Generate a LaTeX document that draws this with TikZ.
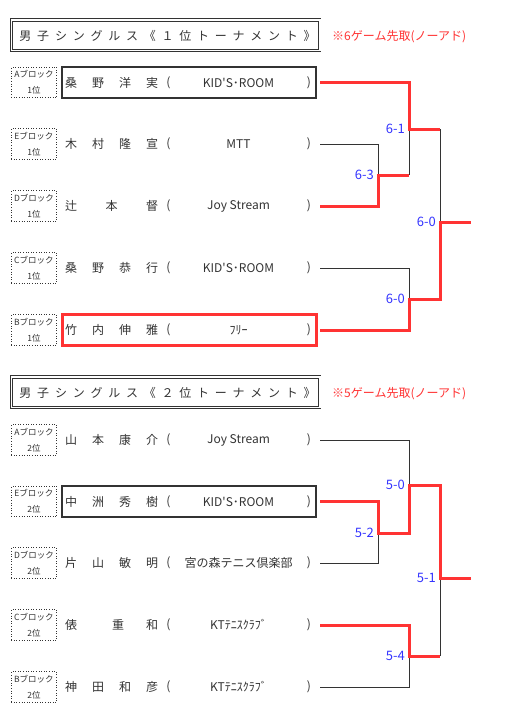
\documentclass[tikz,border=0pt]{standalone}
\usepackage{fontspec}
\setmainfont{Noto Sans CJK JP}
\usetikzlibrary{positioning}
\definecolor{ink}{HTML}{333333}
\definecolor{cwin}{HTML}{FF3333}
\definecolor{cscore}{HTML}{3333FF}
\tikzset{
  row/.style={minimum width=254pt, minimum height=31pt, inner sep=0pt, outer sep=0pt},
  rowbox/.style={row, draw=ink, line width=2pt},
  rowred/.style={row, draw=cwin, line width=3pt},
  blk/.style={draw=ink, dotted, line width=0.6pt, minimum width=45.5pt, minimum height=30.5pt,
              inner sep=0pt, outer sep=0pt, align=center, font=\fontsize{8.5}{16}\selectfont, text=ink},
  ttl/.style={draw=ink, double, double distance=1.6pt, line width=0.8pt, inner sep=0pt, outer sep=0pt,
              minimum width=308.4pt, minimum height=30.5pt},
  ttltext/.style={anchor=west, inner sep=0pt, text=ink,
                  font=\fontsize{12}{14}\selectfont\addfontfeature{LetterSpace=48}},
  note/.style={anchor=west, inner sep=0pt, text=cwin, font=\fontsize{12}{14}\selectfont},
  nm/.style={anchor=west, inner sep=0pt, text=ink, font=\fontsize{12}{14}\selectfont},
  txt/.style={inner sep=0pt, text=ink, font=\fontsize{12}{14}\selectfont},
  score/.style={anchor=east, inner sep=0pt, text=cscore, font=\fontsize{13}{14}\selectfont},
  lline/.style={draw=ink, line width=0.8pt},
  wline/.style={draw=cwin, line width=3pt},
}
\newcommand{\ngap}{\hspace{15pt}}
% id, y, block label, name, club, row style
\newcommand{\player}[6]{%
  \node[#6] (#1) at (189,#2) {};
  \node[blk, left=5.3pt of #1] (#1b) {#3};
  \node[nm] (#1n) at ([xshift=3pt]#1.west) {#4};
  \node[txt] (#1l) at ([xshift=106.5pt]#1.west) {(};
  \node[txt] (#1c) at ([xshift=176.5pt]#1.west) {#5};
  \node[txt] (#1r) at ([xshift=247pt]#1.west) {)};
}

\begin{document}
\begin{tikzpicture}[x=1pt,y=-1pt]
\useasboundingbox (0,0) rectangle (523,720);

% ---- 1st place tournament ----
\node[ttl] (T1) at (165.5,35.25) {};
\node[ttltext] (T1t) at ([xshift=8pt,yshift=-1pt]T1.west) {男子シングルス《１位トーナメント》};
\node[note] (N1) at (332,36.5) {※6ゲーム先取(ノーアド)};

\player{A1}{82.5}{Aブロック\\1位}{桑\ngap 野\ngap 洋\ngap 実}{KID\textquotesingle S･ROOM}{rowbox}
\player{E1}{144}{Eブロック\\1位}{木\ngap 村\ngap 隆\ngap 宣}{MTT}{row}
\player{D1}{206}{Dブロック\\1位}{辻\hspace{28.5pt}本\hspace{28.5pt}督}{Joy Stream}{row}
\player{C1}{268}{Cブロック\\1位}{桑\ngap 野\ngap 恭\ngap 行}{KID\textquotesingle S･ROOM}{row}
\player{B1}{330}{Bブロック\\1位}{竹\ngap 内\ngap 伸\ngap 雅}{ﾌﾘｰ}{rowred}

\coordinate (m1) at (378,175);
\coordinate (m2) at (409,129);
\coordinate (m3) at (409,299);
\coordinate (f1) at (440,222);
\coordinate (w1) at (471,222);

\draw[lline] ([xshift=4pt]E1.east) -| (m1);
\draw[lline] (m1 -| m2) -- (m2);
\draw[lline] ([xshift=4pt]C1.east) -| (m3);
\draw[lline] (m2 -| f1) -- (f1);
\draw[wline] ([xshift=4pt]D1.east) -| (m1) -- (m1 -| m2);
\draw[wline] ([xshift=4pt]A1.east) -| (m2) -- (m2 -| f1);
\draw[wline] ([xshift=4pt]B1.east) -| (m3) -| (f1) -- (w1);

\node[score] (s1) at ([xshift=-4pt]m1) {6-3};
\node[score] (s2) at ([xshift=-4pt]m2) {6-1};
\node[score] (s3) at ([xshift=-4pt]m3) {6-0};
\node[score] (s4) at ([xshift=-4pt]f1) {6-0};

% ---- 2nd place tournament ----
\node[ttl] (T2) at (165.5,392.25) {};
\node[ttltext] (T2t) at ([xshift=8pt,yshift=-1pt]T2.west) {男子シングルス《２位トーナメント》};
\node[note] (N2) at (332,393.5) {※5ゲーム先取(ノーアド)};

\player{A2}{440}{Aブロック\\2位}{山\ngap 本\ngap 康\ngap 介}{Joy Stream}{row}
\player{E2}{501.5}{Eブロック\\2位}{中\ngap 洲\ngap 秀\ngap 樹}{KID\textquotesingle S･ROOM}{rowbox}
\player{D2}{563}{Dブロック\\2位}{片\ngap 山\ngap 敏\ngap 明}{宮の森テニス倶楽部}{row}
\player{C2}{625}{Cブロック\\2位}{俵\hspace{35pt}重\hspace{22pt}和}{KTﾃﾆｽｸﾗﾌﾞ}{row}
\player{B2}{687}{Bブロック\\2位}{神\ngap 田\ngap 和\ngap 彦}{KTﾃﾆｽｸﾗﾌﾞ}{row}

\coordinate (m4) at (378,533);
\coordinate (m5) at (409,485);
\coordinate (m6) at (409,656);
\coordinate (f2) at (440,578);
\coordinate (w2) at (471,578);

\draw[lline] ([xshift=4pt]A2.east) -| (m5);
\draw[lline] ([xshift=4pt]D2.east) -| (m4);
\draw[lline] ([xshift=4pt]B2.east) -| (m6);
\draw[lline] (m6 -| f2) -- (f2);
\draw[wline] ([xshift=4pt]E2.east) -| (m4) -| (m5) -| (f2) -- (w2);
\draw[wline] ([xshift=4pt]C2.east) -| (m6) -- (m6 -| f2);

\node[score] (s5) at ([xshift=-4pt]m4) {5-2};
\node[score] (s6) at ([xshift=-4pt]m5) {5-0};
\node[score] (s7) at ([xshift=-4pt]m6) {5-4};
\node[score] (s8) at ([xshift=-4pt]f2) {5-1};
\end{tikzpicture}
\end{document}
